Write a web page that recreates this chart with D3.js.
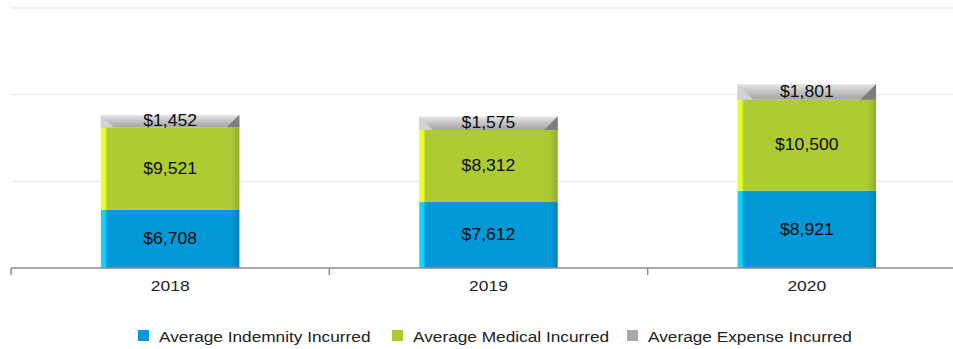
<!DOCTYPE html>
<html>
<head>
<meta charset="utf-8">
<script src="https://cdn.jsdelivr.net/npm/d3@7"></script>
<style>
  html, body { margin: 0; padding: 0; background: #fff; }
  svg { display: block; }
  text { font-family: "Liberation Sans", Arial, sans-serif; }
</style>
</head>
<body>
<svg id="chart" width="953" height="349"></svg>
<script>
// Average incurred cost per claim, by year
const years = ["2018", "2019", "2020"];
const indemnity = [6708, 7612, 8921];
const medical = [9521, 8312, 10500];
const expense = [1452, 1575, 1801];
const seriesNames = ["Average Indemnity Incurred", "Average Medical Incurred", "Average Expense Incurred"];
const yTicks = [0, 10000, 20000, 30000];

const svg = d3.select("#chart");
const W = 953, H = 349;
const m = { left: 11, right: -13, top: 8, bottom: 81 };
const baseY = H - m.bottom;

const rows = years.map((y, i) => ({
  year: y,
  indemnity: indemnity[i],
  medical: medical[i],
  expense: expense[i]
}));
const keys = ["indemnity", "medical", "expense"];
const stacked = d3.stack().keys(keys)(rows);

const x = d3.scaleBand()
  .domain(years)
  .range([m.left, W - m.right])
  .paddingInner(0.565)
  .paddingOuter(0.2825);

const y = d3.scaleLinear()
  .domain([0, 30000])
  .range([baseY, m.top]);

const palette = {
  indemnity: { main: "#0399d9", light: "#14d2ff", dark: "#0a80b8" },
  medical:   { main: "#aecb34", light: "#e6ff2a", dark: "#92aa2a" },
  expense:   { main: "#a9a9a9", light: "#dcdcdc", dark: "#7a7a7a" }
};

// gradients that give each segment a bevelled look
const defs = svg.append("defs");
keys.forEach(k => {
  const c = palette[k];
  const g = defs.append("linearGradient").attr("id", "g-" + k)
    .attr("x1", "0").attr("x2", "1").attr("y1", "0").attr("y2", "0");
  g.append("stop").attr("offset", "0").attr("stop-color", c.light);
  g.append("stop").attr("offset", "0.03").attr("stop-color", c.light);
  g.append("stop").attr("offset", "0.045").attr("stop-color", c.main);
  g.append("stop").attr("offset", "0.94").attr("stop-color", c.main);
  g.append("stop").attr("offset", "1").attr("stop-color", c.dark);
});
const gTop = defs.append("linearGradient").attr("id", "g-top")
  .attr("x1", "0").attr("x2", "0").attr("y1", "0").attr("y2", "1");
gTop.append("stop").attr("offset", "0").attr("stop-color", "#e8e8e8");
gTop.append("stop").attr("offset", "0.45").attr("stop-color", "#c6c6c6");
gTop.append("stop").attr("offset", "1").attr("stop-color", "#a4a4a4");

// horizontal gridlines
svg.append("g")
  .selectAll("line")
  .data(yTicks.slice(1))
  .join("line")
  .attr("x1", m.left).attr("x2", W)
  .attr("y1", d => y(d)).attr("y2", d => y(d))
  .attr("stroke", "#e6e6e6").attr("stroke-width", 1);

// stacked segments
const bw = x.bandwidth();
stacked.forEach(layer => {
  const k = layer.key;
  const g = svg.append("g");
  g.selectAll("rect")
    .data(layer)
    .join("rect")
    .attr("x", d => x(d.data.year))
    .attr("y", d => y(d[1]))
    .attr("width", bw)
    .attr("height", d => y(d[0]) - y(d[1]))
    .attr("fill", k === "expense" ? "url(#g-top)" : `url(#g-${k})`);
  if (k === "expense") {
    // darker bevel corner at top right, lighter at top left
    g.selectAll("path.r")
      .data(layer)
      .join("path")
      .attr("class", "r")
      .attr("d", d => {
        const x1 = x(d.data.year) + bw, t = y(d[1]), b = y(d[0]);
        const s = b - t;
        return `M${x1},${t} L${x1},${b} L${x1 - s},${b} Z`;
      })
      .attr("fill", "#7e7e7e");
    g.selectAll("path.l")
      .data(layer)
      .join("path")
      .attr("class", "l")
      .attr("d", d => {
        const x0 = x(d.data.year), t = y(d[1]), b = y(d[0]);
        const s = b - t;
        return `M${x0},${t} L${x0},${b} L${x0 + s},${b} Z`;
      })
      .attr("fill", "#d2d2d2");
  }
});

// value labels centred in each segment
const fmt = d3.format("$,");
stacked.forEach(layer => {
  svg.append("g")
    .selectAll("text")
    .data(layer)
    .join("text")
    .attr("transform", d => `translate(${x(d.data.year) + bw / 2},${(y(d[0]) + y(d[1])) / 2}) scale(1.1,1)`)
    .attr("text-anchor", "middle")
    .attr("dominant-baseline", "central")
    .attr("font-size", 16)
    .attr("fill", "#0c0c0c")
    .text(d => fmt(d[1] - d[0]));
});

// category axis with ticks on band boundaries
const axis = svg.append("g");
axis.append("line")
  .attr("x1", m.left).attr("x2", W)
  .attr("y1", baseY).attr("y2", baseY)
  .attr("stroke", "#8c8c8c").attr("stroke-width", 1.5);
axis.selectAll("line.tick")
  .data(years)
  .join("line")
  .attr("class", "tick")
  .attr("x1", d => x(d) - x.step() * x.paddingOuter())
  .attr("x2", d => x(d) - x.step() * x.paddingOuter())
  .attr("y1", baseY).attr("y2", baseY + 7)
  .attr("stroke", "#8c8c8c").attr("stroke-width", 1.5);
axis.selectAll("text")
  .data(years)
  .join("text")
  .attr("transform", d => `translate(${x(d) + bw / 2},${baseY + 18}) scale(1.25,1)`)
  .attr("text-anchor", "middle")
  .attr("dominant-baseline", "central")
  .attr("font-size", 14)
  .attr("fill", "#222")
  .text(d => d);

// legend
const legendX = [138, 392, 627];
const legendColors = [palette.indemnity.main, palette.medical.main, palette.expense.main];
const lg = svg.append("g").selectAll("g")
  .data(seriesNames)
  .join("g")
  .attr("transform", (d, i) => `translate(${legendX[i]},336)`);
lg.append("rect")
  .attr("x", 0).attr("y", -6)
  .attr("width", 11).attr("height", 11)
  .attr("fill", (d, i) => legendColors[i]);
lg.append("text")
  .attr("transform", "translate(21,0) scale(1.15,1)")
  .attr("dominant-baseline", "central")
  .attr("font-size", 15)
  .attr("fill", "#222")
  .text(d => d);
</script>
</body>
</html>
